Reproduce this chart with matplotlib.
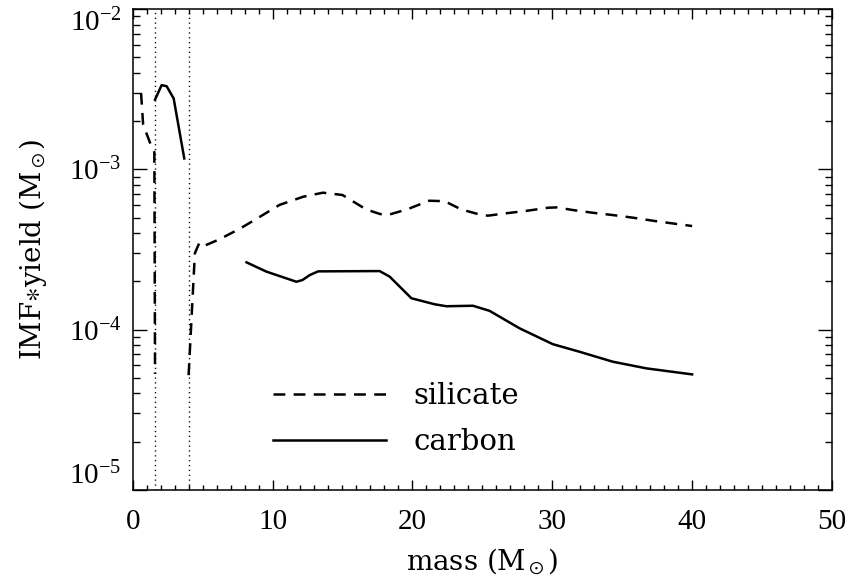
import numpy as np
import matplotlib
matplotlib.use('Agg')
import matplotlib.pyplot as plt
from matplotlib.ticker import MultipleLocator, LogLocator, LogFormatterMathtext, NullFormatter

nan = np.nan

# ---- data ----
sil_mass = [0.6, 0.75, 1.25, 1.55, 1.6, nan,
            4.0, 4.45, 4.75, 5.0, 6.2, 7.7, 9.0, 10.5, 12.2, 13.6, 15.0, 16.7,
            17.7, 18.4, 19.6, 21.2, 22.3, 23.5, 24.8, 25.4, 26.7, 28.1, 29.7,
            30.3, 31.5, 32.9, 34.3, 35.8, 37.2, 38.6, 40.0]
sil_yield = [3.0e-3, 1.9e-3, 1.46e-3, 1.28e-3, 5.3e-5, nan,
             5.2e-5, 3.0e-4, 3.45e-4, 3.3e-4, 3.66e-4, 4.28e-4, 5.0e-4, 6.0e-4,
             6.75e-4, 7.15e-4, 6.92e-4, 5.62e-4, 5.26e-4, 5.24e-4, 5.62e-4,
             6.37e-4, 6.33e-4, 5.62e-4, 5.23e-4, 5.14e-4, 5.32e-4, 5.5e-4,
             5.76e-4, 5.79e-4, 5.57e-4, 5.36e-4, 5.19e-4, 4.99e-4, 4.78e-4,
             4.6e-4, 4.43e-4]

car_mass = [1.6, 2.07, 2.43, 2.93, 3.69, nan,
            8.14, 9.57, 11.71, 12.14, 12.66, 13.26, 17.66, 18.38, 19.93, 21.59,
            22.43, 24.33, 25.52, 27.66, 30.04, 31.95, 34.33, 36.71, 40.0]
car_yield = [2.72e-3, 3.35e-3, 3.30e-3, 2.77e-3, 1.17e-3, nan,
             2.63e-4, 2.30e-4, 1.99e-4, 2.04e-4, 2.19e-4, 2.31e-4, 2.32e-4,
             2.14e-4, 1.57e-4, 1.44e-4, 1.40e-4, 1.41e-4, 1.31e-4, 1.02e-4,
             8.12e-5, 7.28e-5, 6.31e-5, 5.74e-5, 5.26e-5]

boundaries = [1.6, 4.0]
series_labels = ['silicate', 'carbon']
xticks = [0, 10, 20, 30, 40, 50]

# ---- style ----
plt.rcParams['font.family'] = ['Liberation Serif', 'DejaVu Serif']
plt.rcParams['mathtext.fontset'] = 'stix'
plt.rcParams['lines.scale_dashes'] = False
word_font = ['DejaVu Serif', 'Liberation Serif']

fig = plt.figure(figsize=(8.52, 5.82), dpi=100)
ax = fig.add_axes([0.1557, 0.1581, 0.8208, 0.8264])

dash = (0, (8.5, 6.0))
ax.plot(sil_mass, sil_yield, color='black', lw=1.8, linestyle=dash,
        label=series_labels[0])
ax.plot(car_mass, car_yield, color='black', lw=1.8, linestyle='-',
        label=series_labels[1])
for b in boundaries:
    ax.axvline(b, color='black', lw=1.0, linestyle=(0, (0.9, 2.6)))

ax.set_yscale('log')
ax.set_xlim(0, 50)
ax.set_ylim(1e-5, 1e-2)

ax.xaxis.set_major_locator(MultipleLocator(10))
ax.xaxis.set_minor_locator(MultipleLocator(1))
ax.set_xticks(xticks)
ax.yaxis.set_major_locator(LogLocator(base=10, numticks=10))
ax.yaxis.set_minor_locator(LogLocator(base=10, subs=np.arange(2, 10), numticks=20))
ax.yaxis.set_major_formatter(LogFormatterMathtext())
ax.yaxis.set_minor_formatter(NullFormatter())

ax.tick_params(axis='both', which='both', direction='in', top=True, right=True,
               colors='black', width=1.0, labelsize=21)
ax.tick_params(axis='x', which='major', length=7, pad=14)
ax.tick_params(axis='x', which='minor', length=3.5)
ax.tick_params(axis='y', which='major', length=10, pad=8)
ax.tick_params(axis='y', which='minor', length=5)
for s in ax.spines.values():
    s.set_linewidth(1.1)

fig.canvas.draw()
for t in ax.get_yticklabels():
    pos = t.get_position()[1]
    if np.isclose(pos, 1e-2):
        t.set_verticalalignment('top')
    elif np.isclose(pos, 1e-5):
        t.set_verticalalignment('bottom')

ax.set_xlabel(r'mass (M$_\odot$)', fontsize=20, family=word_font, labelpad=8)
ax.set_ylabel(r'IMF$\ast$yield (M$_\odot$)', fontsize=20, family=word_font,
              labelpad=14)

leg = ax.legend(loc='upper left', bbox_to_anchor=(0.2002, 0.225), frameon=False,
                prop={'family': word_font, 'size': 21},
                handlelength=3.87, handletextpad=0.96,
                labelspacing=0.64, borderpad=0, borderaxespad=0)

fig.savefig('out.png', dpi=100)
